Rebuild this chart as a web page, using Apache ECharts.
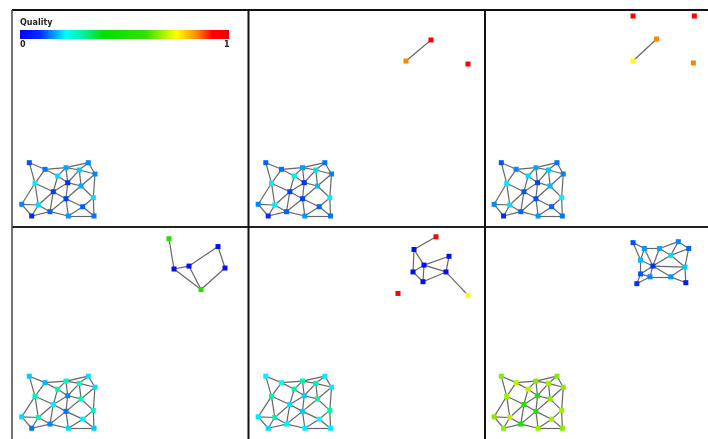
<!DOCTYPE html>
<html><head><meta charset="utf-8">
<script src="https://cdn.jsdelivr.net/npm/echarts@6.0.0/dist/echarts.min.js"></script>
<style>html,body{margin:0;padding:0;background:#fff}#c{width:708px;height:439px}</style>
</head><body><div id="c"></div><script>
// ---- Data ----
// Shared lattice (panel-local coordinates)
const LATTICE_X = [17.3, 33, 54, 76.3, 45.7, 67.3, 83, 23, 55.7, 69, 41.3, 54, 81.3, 9.7, 26.3, 38, 19.7, 56.3, 70.7, 82];
const LATTICE_Y = [152.7, 159.3, 157.7, 152.7, 166, 160, 164, 173.3, 172.7, 176, 181.7, 188.7, 187.7, 194.3, 195, 201.7, 206, 206, 196.7, 206];
const LATTICE_EDGES = [[0,1],[1,2],[2,3],[3,6],[2,5],[5,3],[5,6],[0,7],[1,7],[1,4],[4,2],[4,8],[2,8],[8,5],[5,9],[9,6],[8,9],[4,10],[7,10],[10,8],[10,11],[11,8],[11,9],[9,12],[6,12],[12,18],[11,18],[12,19],[18,19],[17,19],[17,18],[11,17],[15,17],[15,11],[10,15],[14,10],[14,15],[14,7],[13,14],[13,16],[16,14],[16,15],[7,13]];
const LATTICE_Q_P1 = [0.12,0.14,0.17,0.15,0.20,0.19,0.15,0.21,0.10,0.17,0.11,0.11,0.20,0.15,0.20,0.13,0.09,0.16,0.13,0.14];
const LATTICE_Q_P2 = [0.13,0.14,0.16,0.14,0.21,0.20,0.15,0.21,0.10,0.18,0.11,0.11,0.21,0.15,0.21,0.13,0.09,0.16,0.13,0.14];
const LATTICE_Q_P3 = [0.12,0.15,0.17,0.14,0.20,0.19,0.15,0.21,0.11,0.18,0.12,0.12,0.21,0.15,0.20,0.13,0.09,0.16,0.13,0.14];
const LATTICE_Q_P4 = [0.19,0.18,0.27,0.20,0.28,0.27,0.20,0.28,0.15,0.27,0.21,0.14,0.27,0.20,0.28,0.15,0.14,0.20,0.21,0.19];
const LATTICE_Q_P5 = [0.21,0.23,0.28,0.21,0.29,0.28,0.21,0.29,0.19,0.29,0.20,0.19,0.29,0.21,0.29,0.21,0.20,0.21,0.22,0.21];
const LATTICE_Q_P6 = [0.66,0.70,0.66,0.66,0.70,0.68,0.66,0.68,0.52,0.66,0.55,0.52,0.68,0.66,0.70,0.50,0.66,0.68,0.68,0.66];

// Extra (top-right) components per panel
const P2_X = [182.5, 157.5, 219.5];
const P2_Y = [30, 51, 54];
const P2_Q = [0.93, 0.85, 0.93];
const P2_EDGES = [[0,1]];

const P3_X = [157, 222, 182, 157, 221];
const P3_Y = [6, 6, 29, 51, 53];
const P3_Q = [0.93, 0.93, 0.85, 0.75, 0.85];
const P3_EDGES = [[2,3]];

const P4_X = [157, 162, 177, 206, 213, 189];
const P4_Y = [12, 43, 40, 20, 42, 64];
const P4_Q = [0.55, 0.03, 0.03, 0.03, 0.03, 0.55];
const P4_EDGES = [[0,1],[1,2],[2,3],[3,4],[4,5],[5,1],[5,2]];

const P5_X = [187.5, 165.5, 200.5, 175.5, 164.5, 197.5, 174.5, 219.5, 149.5];
const P5_Y = [10, 23, 30, 39, 46, 46, 56, 70, 68];
const P5_Q = [0.93, 0.03, 0.03, 0.03, 0.03, 0.03, 0.03, 0.75, 0.93];
const P5_EDGES = [[0,1],[1,3],[1,4],[3,2],[2,5],[3,5],[4,3],[4,6],[3,6],[6,5],[5,7]];

const P6_X = [157, 169, 185, 205, 216, 197, 165, 178, 212, 165, 175, 161, 197, 213];
const P6_Y = [16, 22, 22, 15, 22, 29, 34, 40, 41, 48, 51, 58, 51, 57];
const P6_Q = [0.12, 0.16, 0.17, 0.15, 0.13, 0.2, 0.18, 0.1, 0.19, 0.12, 0.15, 0.1, 0.16, 0.05];
const P6_EDGES = [[0,1],[1,2],[2,3],[3,4],[0,6],[1,6],[1,7],[2,7],[2,5],[3,5],[4,5],[4,8],[5,8],[5,7],[6,7],[6,9],[7,9],[7,10],[9,10],[9,11],[10,11],[7,12],[10,12],[12,8],[12,13],[8,13],[7,8]];

const COLORBAR_TITLE = 'Quality';
const COLORBAR_TICKS = ['0', '1'];

// ---- Style ----
const JET = [[0,[0,0,255]],[0.1,[0,50,255]],[0.22,[0,255,255]],[0.32,[0,240,130]],[0.4,[0,225,0]],[0.6,[50,225,0]],[0.75,[255,255,0]],[0.85,[255,130,0]],[0.92,[255,0,0]],[1,[240,0,0]]];
function cmap(q){
  for (let i=1;i<JET.length;i++){
    if (q<=JET[i][0]){
      const a=JET[i-1], b=JET[i], t=(q-a[0])/(b[0]-a[0]);
      const c=a[1].map((v,k)=>Math.round(v+(b[1][k]-v)*t));
      return 'rgb('+c.join(',')+')';
    }
  }
  const c=JET[JET.length-1][1]; return 'rgb('+c.join(',')+')';
}

const W = 708, H = 439;
const PANEL_W = 236.5, PANEL_H = 217, ORIGIN_X = 12, ORIGIN_Y = 10;
const panels = [
  {lq: LATTICE_Q_P1, x: [], y: [], q: [], e: []},
  {lq: LATTICE_Q_P2, x: P2_X, y: P2_Y, q: P2_Q, e: P2_EDGES},
  {lq: LATTICE_Q_P3, x: P3_X, y: P3_Y, q: P3_Q, e: P3_EDGES},
  {lq: LATTICE_Q_P4, x: P4_X, y: P4_Y, q: P4_Q, e: P4_EDGES},
  {lq: LATTICE_Q_P5, x: P5_X, y: P5_Y, q: P5_Q, e: P5_EDGES},
  {lq: LATTICE_Q_P6, x: P6_X, y: P6_Y, q: P6_Q, e: P6_EDGES}
];

const grids=[], xAxes=[], yAxes=[], series=[];
panels.forEach((p, i) => {
  const c = i % 3, r = Math.floor(i / 3);
  grids.push({left: ORIGIN_X + c*PANEL_W, top: ORIGIN_Y + r*PANEL_H, width: PANEL_W, height: PANEL_H, show: false});
  xAxes.push({gridIndex: i, type: 'value', min: 0, max: PANEL_W, show: false});
  yAxes.push({gridIndex: i, type: 'value', min: 0, max: PANEL_H, inverse: true, show: false});
  const nodes = [], links = [];
  LATTICE_X.forEach((x, k) => nodes.push({value: [x, LATTICE_Y[k]], itemStyle: {color: cmap(p.lq[k])}}));
  LATTICE_EDGES.forEach(e => links.push({source: e[0], target: e[1]}));
  const off = nodes.length;
  p.x.forEach((x, k) => nodes.push({value: [x, p.y[k]], itemStyle: {color: cmap(p.q[k])}}));
  p.e.forEach(e => links.push({source: e[0] + off, target: e[1] + off}));
  series.push({
    type: 'graph', coordinateSystem: 'cartesian2d', xAxisIndex: i, yAxisIndex: i,
    symbol: 'rect', symbolSize: 5, data: nodes, links: links,
    lineStyle: {color: '#666', width: 1.2, opacity: 1, curveness: 0},
    itemStyle: {opacity: 1}, label: {show: false}, emphasis: {disabled: true},
    silent: true, animation: false
  });
});

// panel frame lines
const frame = [];
const lineStyle = (w, col) => ({stroke: col, lineWidth: w});
frame.push({type: 'line', z: 50, shape: {x1: ORIGIN_X, y1: ORIGIN_Y, x2: W, y2: ORIGIN_Y}, style: lineStyle(2, '#111')});
frame.push({type: 'line', z: 50, shape: {x1: ORIGIN_X, y1: ORIGIN_Y + PANEL_H, x2: W, y2: ORIGIN_Y + PANEL_H}, style: lineStyle(2, '#222')});
frame.push({type: 'line', z: 50, shape: {x1: ORIGIN_X, y1: ORIGIN_Y, x2: ORIGIN_X, y2: H}, style: lineStyle(1.5, '#444')});
for (let c = 1; c < 3; c++) {
  const x = ORIGIN_X + c * PANEL_W;
  frame.push({type: 'line', z: 50, shape: {x1: x, y1: ORIGIN_Y, x2: x, y2: H}, style: lineStyle(2, '#111')});
}

const chart = echarts.init(document.getElementById('c'), null, {renderer: 'canvas'});
chart.setOption({
  backgroundColor: '#fff', animation: false,
  grid: grids, xAxis: xAxes, yAxis: yAxes, series: series,
  graphic: frame.concat([
    {type: 'rect', left: 20, top: 30, shape: {width: 209, height: 9}, z: 100,
      style: {fill: new echarts.graphic.LinearGradient(0, 0, 1, 0, JET.map(s => ({offset: s[0], color: 'rgb(' + s[1].join(',') + ')'})))}},
    {type: 'text', left: 20, top: 19, z: 100, style: {text: COLORBAR_TITLE, font: 'bold 8px "DejaVu Sans", sans-serif', fill: '#222'}},
    {type: 'text', left: 20, top: 41, z: 100, style: {text: COLORBAR_TICKS[0], font: 'bold 8px "DejaVu Sans", sans-serif', fill: '#222'}},
    {type: 'text', left: 224, top: 41, z: 100, style: {text: COLORBAR_TICKS[1], font: 'bold 8px "DejaVu Sans", sans-serif', fill: '#222'}}
  ])
});
</script></body></html>
